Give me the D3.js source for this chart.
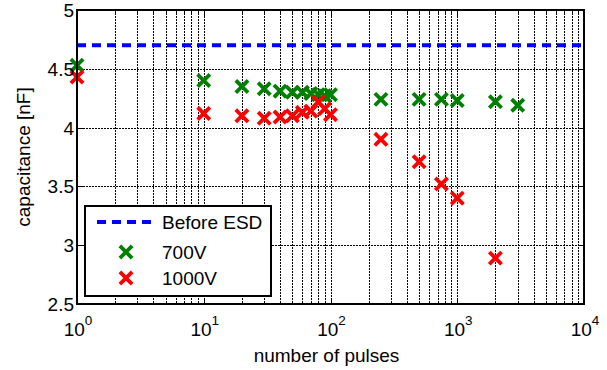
<!DOCTYPE html>
<html><head><meta charset="utf-8">
<script src="https://cdn.jsdelivr.net/npm/d3@7"></script>
<style>
html,body{margin:0;padding:0;background:#fff;}
svg{display:block;font-family:Arial,"Liberation Sans",sans-serif;}
</style></head>
<body>
<svg id="chart" width="607" height="370"></svg>
<script>
const xTickVals = [1, 10, 100, 1000, 10000];
const xTickExps = ["0", "1", "2", "3", "4"];
const yTickVals = [2.5, 3, 3.5, 4, 4.5, 5];
const yTickLabels = ["2.5", "3", "3.5", "4", "4.5", "5"];
const beforeESD = 4.7;
const pulses700 = [1, 10, 20, 30, 40, 50, 60, 70, 80, 90, 100, 250, 500, 750, 1000, 2000, 3000];
const cap700 = [4.53, 4.40, 4.35, 4.33, 4.31, 4.30, 4.30, 4.29, 4.28, 4.27, 4.28, 4.24, 4.24, 4.24, 4.23, 4.22, 4.19];
const pulses1000 = [1, 10, 20, 30, 40, 50, 60, 70, 80, 90, 100, 250, 500, 750, 1000, 2000];
const cap1000 = [4.43, 4.12, 4.10, 4.08, 4.09, 4.10, 4.13, 4.14, 4.22, 4.16, 4.11, 3.90, 3.71, 3.52, 3.40, 2.89];
const legendLabels = ["Before ESD", "700V", "1000V"];

const L = 77, R = 584, T = 10, B = 304;
const svg = d3.select("#chart");
const x = d3.scaleLog().domain([1, 10000]).range([L, R]);
const y = d3.scaleLinear().domain([2.5, 5]).range([B, T]);

const minor = [];
for (let d = 1; d < 10000; d *= 10) for (let k = 2; k <= 9; k++) minor.push(d * k);
const allX = xTickVals.concat(minor);

const grid = svg.append("g").attr("stroke", "#000").attr("stroke-width", 1).attr("stroke-dasharray", "2,1");
grid.selectAll("line.vx").data(allX.filter(v => v > 1 && v < 10000)).join("line")
  .attr("x1", d => Math.round(x(d)) + 0.5).attr("x2", d => Math.round(x(d)) + 0.5)
  .attr("y1", T).attr("y2", B);
grid.selectAll("line.hy").data(yTickVals.filter(v => v > 2.5 && v < 5)).join("line")
  .attr("x1", L).attr("x2", R)
  .attr("y1", d => Math.round(y(d)) + 0.5).attr("y2", d => Math.round(y(d)) + 0.5);

const tk = svg.append("g").attr("stroke", "#000").attr("stroke-width", 1);
xTickVals.forEach(v => {
  const px = Math.round(x(v)) + 0.5;
  tk.append("line").attr("x1", px).attr("x2", px).attr("y1", B).attr("y2", B - 6);
  tk.append("line").attr("x1", px).attr("x2", px).attr("y1", T).attr("y2", T + 6);
});
minor.forEach(v => {
  const px = Math.round(x(v)) + 0.5;
  tk.append("line").attr("x1", px).attr("x2", px).attr("y1", B).attr("y2", B - 3);
  tk.append("line").attr("x1", px).attr("x2", px).attr("y1", T).attr("y2", T + 3);
});
yTickVals.forEach(v => {
  const py = Math.round(y(v)) + 0.5;
  tk.append("line").attr("x1", L).attr("x2", L + 6).attr("y1", py).attr("y2", py);
  tk.append("line").attr("x1", R).attr("x2", R - 6).attr("y1", py).attr("y2", py);
});

svg.append("line").attr("x1", L).attr("x2", R)
  .attr("y1", y(beforeESD)).attr("y2", y(beforeESD))
  .attr("stroke", "#0000ff").attr("stroke-width", 4).attr("stroke-dasharray", "9,6");

function cross(g, cx, cy, color, s) {
  g.append("path").attr("d", `M${cx - s},${cy - s}L${cx + s},${cy + s}M${cx - s},${cy + s}L${cx + s},${cy - s}`)
    .attr("stroke", color).attr("stroke-width", 3.8).attr("fill", "none").attr("stroke-linecap", "square");
}
const mk = svg.append("g");
pulses700.forEach((p, i) => cross(mk, x(p), y(cap700[i]), "#008000", 4.8));
pulses1000.forEach((p, i) => cross(mk, x(p), y(cap1000[i]), "#ff0000", 4.8));

svg.append("rect").attr("x", L).attr("y", T).attr("width", R - L).attr("height", B - T)
  .attr("fill", "none").attr("stroke", "#000").attr("stroke-width", 2);

const fs = 19;
yTickVals.forEach((v, i) => {
  svg.append("text").attr("x", L - 3).attr("y", y(v) + 7).attr("text-anchor", "end")
    .attr("font-size", fs).text(yTickLabels[i]);
});
xTickVals.forEach((v, i) => {
  const t = svg.append("text").attr("x", x(v) + 1).attr("y", 336).attr("text-anchor", "middle").attr("font-size", fs);
  t.append("tspan").text("10");
  t.append("tspan").attr("dy", -11).attr("font-size", 13.5).text(xTickExps[i]);
});

svg.append("text").attr("transform", `translate(30,${(T + B) / 2}) rotate(-90)`)
  .attr("text-anchor", "middle").attr("font-size", fs).text("capacitance [nF]");
svg.append("text").attr("x", (L + R) / 2 - 4).attr("y", 362).attr("text-anchor", "middle")
  .attr("font-size", fs).text("number of pulses");

const lg = svg.append("g");
lg.append("rect").attr("x", 85).attr("y", 206).attr("width", 186).attr("height", 90)
  .attr("fill", "#fff").attr("stroke", "#000").attr("stroke-width", 2);
lg.append("line").attr("x1", 97).attr("x2", 155).attr("y1", 222).attr("y2", 222)
  .attr("stroke", "#0000ff").attr("stroke-width", 4).attr("stroke-dasharray", "9,6");
cross(lg, 126, 252, "#008000", 4.8);
cross(lg, 126, 278, "#ff0000", 4.8);
[222, 252, 278].forEach((yy, i) => {
  lg.append("text").attr("x", 162).attr("y", yy + 7).attr("font-size", fs).text(legendLabels[i]);
});
</script>
</body></html>
